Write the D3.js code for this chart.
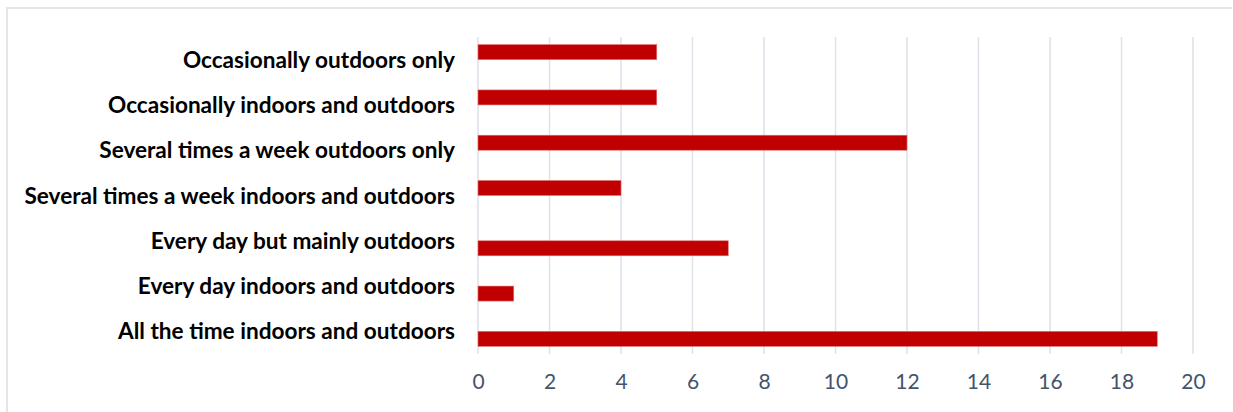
<!DOCTYPE html>
<html>
<head>
<meta charset="utf-8">
<script src="https://cdn.jsdelivr.net/npm/d3@7"></script>
<style>
  html, body { margin: 0; padding: 0; background: #ffffff; }
  svg { display: block; }
</style>
</head>
<body>
<svg id="chart" width="1233" height="412"></svg>
<script>
// Categories, listed top to bottom
const categories = [
  "Occasionally outdoors only",
  "Occasionally indoors and outdoors",
  "Several times a week outdoors only",
  "Several times a week indoors and outdoors",
  "Every day but mainly outdoors",
  "Every day indoors and outdoors",
  "All the time indoors and outdoors"
];

// Two series share the category slots; null where a series has no bar
const lessOften = [5, 5, 12, 4, null, null, null];
const daily     = [null, null, null, null, 7, 1, 19];

const seriesNames = ["lessOften", "daily"];
const seriesValues = { lessOften, daily };

const xTicks = [0, 2, 4, 6, 8, 10, 12, 14, 16, 18, 20];

const svg = d3.select("#chart");
const W = 1233, H = 412;

// Outer frame (top and left edges visible)
svg.append("line")
  .attr("x1", 6.5).attr("x2", 1232).attr("y1", 8).attr("y2", 8)
  .attr("stroke", "#e2e5ea").attr("stroke-width", 2);
svg.append("line")
  .attr("x1", 7).attr("x2", 7).attr("y1", 7).attr("y2", H)
  .attr("stroke", "#e2e5ea").attr("stroke-width", 2);

const plot = { left: 478, right: 1193, top: 37, bottom: 354 };

const x = d3.scaleLinear().domain([0, 20]).range([plot.left, plot.right]);
const y = d3.scaleBand().domain(categories).range([plot.top, plot.bottom]).padding(0);
const ySub = d3.scaleBand().domain(seriesNames).range([0, y.bandwidth()])
  .paddingInner(0).paddingOuter(0.51);

// Vertical gridlines
svg.append("g")
  .selectAll("line")
  .data(xTicks)
  .join("line")
  .attr("x1", d => x(d)).attr("x2", d => x(d))
  .attr("y1", plot.top).attr("y2", plot.bottom)
  .attr("stroke", "#dde1e9").attr("stroke-width", 1.5);

// Bars
const rows = [];
seriesNames.forEach(s => {
  categories.forEach((c, i) => {
    const v = seriesValues[s][i];
    if (v != null) rows.push({ series: s, category: c, value: v });
  });
});

svg.append("g")
  .selectAll("rect")
  .data(rows)
  .join("rect")
  .attr("x", x(0))
  .attr("y", d => y(d.category) + ySub(d.series))
  .attr("width", d => x(d.value) - x(0))
  .attr("height", ySub.bandwidth())
  .attr("fill", "#c00000")
  .attr("stroke", "#e07070")
  .attr("stroke-width", 0.6);

// Category labels
const yAxis = d3.axisLeft(y).tickSize(0).tickPadding(23);
const gy = svg.append("g")
  .attr("transform", `translate(${plot.left},0)`)
  .call(yAxis);
gy.select(".domain").remove();
gy.selectAll("text")
  .attr("font-family", "Lato, 'Open Sans', sans-serif")
  .attr("font-weight", "bold")
  .attr("font-size", 22.6)
  .attr("fill", "#000000")
  .attr("dy", "0.36em");

// Value axis labels
const xAxis = d3.axisBottom(x).tickValues(xTicks).tickSize(0).tickPadding(20);
const gx = svg.append("g")
  .attr("transform", `translate(0,${plot.bottom})`)
  .call(xAxis);
gx.select(".domain").remove();
gx.selectAll("text")
  .attr("font-family", "Lato, 'Open Sans', sans-serif")
  .attr("font-size", 21)
  .attr("fill", "#44546a");
</script>
</body>
</html>
